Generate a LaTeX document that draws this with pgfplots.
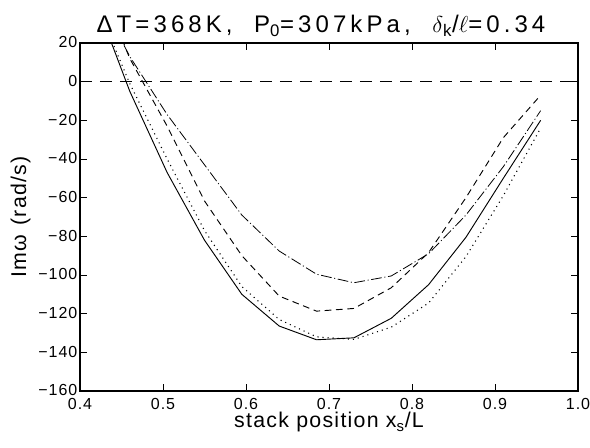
\documentclass[border=0pt]{standalone}
\usepackage{pgfplots}
\pgfplotsset{compat=1.18}
\usepackage{fontspec}
\setmainfont{Liberation Sans}
\newfontfamily\wide[LetterSpace=17]{Liberation Sans}
\newfontfamily\semiwide[LetterSpace=6]{Liberation Sans}
\newfontfamily\slight[LetterSpace=6]{Liberation Sans}
\begin{document}
\begin{tikzpicture}
\begin{axis}[
  scale only axis,
  width=373.5pt, height=261pt,
  xmin=0.4, xmax=1.0, ymin=-160, ymax=20,
  xtick={0.4,0.5,0.6,0.7,0.8,0.9,1.0},
  xticklabels={0.4,0.5,0.6,0.7,0.8,0.9,1.0},
  ytick={-160,-140,-120,-100,-80,-60,-40,-20,0,20},
  yticklabels={−160,−140,−120,−100,−80,−60,−40,−20,0,20},
  tick align=inside,
  major tick length=5pt,
  tick style={black, line width=0.6pt},
  axis line style={line width=0.9pt},
  tick label style={font=\semiwide\fontsize{12}{13}\selectfont},
  xticklabel style={yshift=-2pt},
  yticklabel style={xshift=1.5pt, yshift=0.5pt},
  title={ΔT=368K,\ \ P\textsubscript{0}=307kPa,\ \ $\delta$\textsubscript{k}/$\ell$=0.34},
  title style={font=\wide\fontsize{18}{20}\selectfont, xshift=-6pt, yshift=-5pt},
  xlabel={stack position x\textsubscript{s}/L},
  ylabel={Imω\hspace{7pt}(rad/s)},
  label style={font=\slight\fontsize{16}{18}\selectfont},
  xlabel style={yshift=5pt},
  ylabel style={yshift=-1pt},
  clip=true,
]
\addplot[black, line width=0.7pt, dash pattern=on 9pt off 6pt] coordinates {(0.4,0) (1.0,0)};
% solid
\addplot[black, line width=0.7pt] coordinates {
(0.415,46) (0.46,-5) (0.505,-47) (0.55,-82) (0.595,-110) (0.64,-126.4) (0.685,-133.5) (0.73,-132.5) (0.775,-122.4) (0.82,-105) (0.865,-80.5) (0.91,-50) (0.955,-20)};
% dotted
\addplot[black, line width=0.8pt, dash pattern=on 0.8pt off 3pt] coordinates {
(0.415,45) (0.46,-1) (0.505,-40) (0.55,-77) (0.595,-106) (0.64,-123) (0.685,-132) (0.73,-133.3) (0.775,-127) (0.82,-114.5) (0.865,-90.5) (0.91,-59) (0.955,-24)};
% dashed
\addplot[black, line width=0.7pt, dash pattern=on 5pt off 3.5pt] coordinates {
(0.415,60) (0.46,12) (0.505,-23) (0.55,-61.7) (0.595,-90) (0.64,-110.9) (0.685,-118.7) (0.73,-117.3) (0.775,-106.6) (0.82,-88.4) (0.865,-60) (0.91,-29) (0.955,-7)};
% dash-dot
\addplot[black, line width=0.6pt, dash pattern=on 8pt off 2pt on 0.8pt off 2pt] coordinates {
(0.415,50) (0.46,13) (0.505,-17) (0.55,-43) (0.595,-69) (0.64,-87.6) (0.685,-99.6) (0.73,-104) (0.775,-100.5) (0.82,-89) (0.865,-69) (0.91,-44) (0.955,-15)};
\end{axis}
\pgfresetboundingbox
\path ([xshift=-60pt,yshift=-42pt]current axis.south west) rectangle ([xshift=9pt,yshift=32.25pt]current axis.north east);
\end{tikzpicture}
\end{document}
